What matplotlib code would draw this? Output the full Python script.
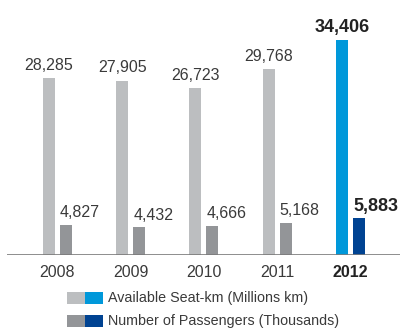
import matplotlib.pyplot as plt
from matplotlib.patches import Rectangle

years = ['2008', '2009', '2010', '2011', '2012']
seat_km = [28285, 27905, 26723, 29768, 34406]       # millions km
passengers = [4827, 4432, 4666, 5168, 5883]         # thousands
legend_labels = ['Available Seat-km (Millions km)',
                 'Number of Passengers (Thousands)']

light_grey = '#bcbec0'
dark_grey = '#939598'
light_blue = '#0098da'
dark_blue = '#004392'
text_col = '#3a3a3a'

plt.rcParams['font.family'] = ['Liberation Sans', 'DejaVu Sans']

W, H = 400, 332
fig = plt.figure(figsize=(W / 100, H / 100), dpi=100)
# axes spans from x=7 to the right edge, baseline 77px above the bottom
ax = fig.add_axes([7 / W, 77 / H, 393 / W, 255 / H])
ax.set_xlim(-0.689, 4.676)
ax.set_ylim(0, 40800)

bw = 0.164
off = 0.116
last = len(years) - 1
for i, (a, p) in enumerate(zip(seat_km, passengers)):
    hl = i == last
    c1 = light_blue if hl else light_grey
    c2 = dark_blue if hl else dark_grey
    ax.bar(i - off, a, width=bw, color=c1, linewidth=0)
    ax.bar(i + off, p, width=bw, color=c2, linewidth=0)

    weight = 'bold' if hl else 'normal'
    size = 13 if hl else 11.5
    col = '#222222' if hl else text_col
    ax.annotate(f'{a:,}', xy=(i - off, a), xytext=(0, 6), textcoords='offset points',
                ha='center', va='baseline', fontsize=size, fontweight=weight, color=col)
    ax.annotate(f'{p:,}', xy=(i + off - bw / 2, p), xytext=(0, 5.5), textcoords='offset points',
                ha='left', va='baseline', fontsize=size, fontweight=weight, color=col)
    ax.annotate(years[i], xy=(i, 0), xycoords=('data', 'axes fraction'),
                xytext=(0, -16), textcoords='offset points', ha='center', va='baseline',
                fontsize=11.5, fontweight=weight, color=col)

ax.axhline(0, color='#7a7a7a', linewidth=1.2)
ax.axis('off')

# legend: two-tone swatches, drawn in figure pixels
rows = [(298, light_grey, light_blue), (321, dark_grey, dark_blue)]
for (cy, ca, cb), label in zip(rows, legend_labels):
    fig.add_artist(Rectangle((67 / W, 1 - (cy + 6) / H), 18 / W, 12 / H,
                             transform=fig.transFigure, color=ca, linewidth=0))
    fig.add_artist(Rectangle((85 / W, 1 - (cy + 6) / H), 18 / W, 12 / H,
                             transform=fig.transFigure, color=cb, linewidth=0))
    fig.text(108 / W, 1 - cy / H, label, ha='left', va='center',
             fontsize=10.3, color=text_col)

fig.savefig('out.png', dpi=100)
